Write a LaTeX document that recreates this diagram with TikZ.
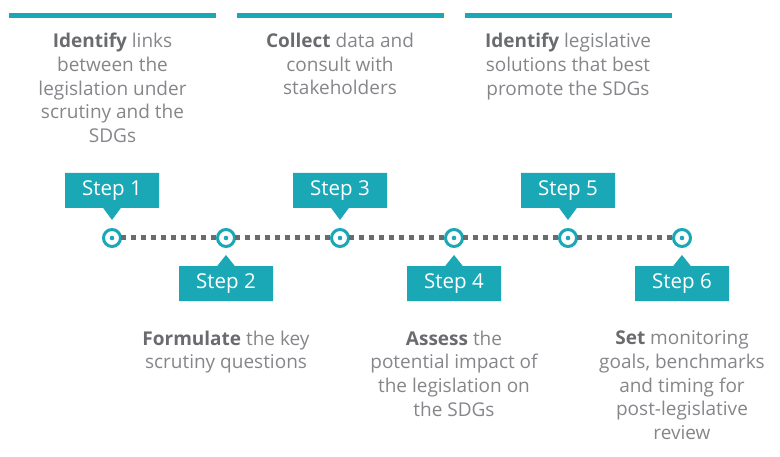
\documentclass[tikz,border=0pt]{standalone}
\usepackage{fontspec}
\setmainfont{Open Sans}
\usepackage{xcolor}
\usetikzlibrary{positioning,shapes.callouts}
\definecolor{tealmain}{HTML}{1BA8B6}
\definecolor{textgray}{HTML}{85868A}
\definecolor{boldgray}{HTML}{6A6B6F}
\definecolor{dotgray}{HTML}{6A6B6F}
\tikzstyle{step box}=[
    rectangle callout,
    fill = tealmain,
    text = white,
    minimum width = 94pt,
    minimum height = 35pt,
    inner sep = 0pt,
    callout pointer width = 18pt,
    font = \fontsize{20.5}{24}\selectfont
]
\tikzstyle{top bar}=[
    fill = tealmain,
    minimum width = 207pt,
    minimum height = 5pt,
    inner sep = 0pt
]
\newcommand{\key}[1]{\textcolor{boldgray}{\textbf{#1}}}

\begin{document}
\begin{tikzpicture}[x=1pt, y=1pt, node distance={30pt},
    main/.style = {draw=tealmain, circle, line width=3pt, fill=white, minimum size=17pt, inner sep=0pt, outer sep=0pt,
        path picture={\fill[tealmain] (path picture bounding box.center) circle (2.3pt);}},
    desc/.style = {align=center, text=textgray, inner sep=0pt, font=\fontsize{19}{23.8}\selectfont},
    dots/.style = {dotgray, line width=5pt, dash pattern=on 5pt off 5pt}]
        \useasboundingbox (0,0) rectangle (780,457);

        \node[main] (1) at (112,219) {};
        \node[main] (2) at (226,219) {};
        \node[main] (3) at (340,219) {};
        \node[main] (4) at (454,219) {};
        \node[main] (5) at (568,219) {};
        \node[main] (6) at (682,219) {};

        \draw[dots] (1) -- (2);
        \draw[dots] (2) -- (3);
        \draw[dots] (3) -- (4);
        \draw[dots] (4) -- (5);
        \draw[dots] (5) -- (6);

        \coordinate (p1) at (112,237);
        \coordinate (p2) at (226,202);
        \coordinate (p3) at (340,237);
        \coordinate (p4) at (454,202);
        \coordinate (p5) at (568,237);
        \coordinate (p6) at (682,202);

        \node[step box, callout absolute pointer={(p1)}] (s1) [above=30pt of 1.center] {Step 1};
        \node[step box, callout absolute pointer={(p2)}] (s2) [below=28pt of 2.center] {Step 2};
        \node[step box, callout absolute pointer={(p3)}] (s3) [above=30pt of 3.center] {Step 3};
        \node[step box, callout absolute pointer={(p4)}] (s4) [below=28pt of 4.center] {Step 4};
        \node[step box, callout absolute pointer={(p5)}] (s5) [above=30pt of 5.center] {Step 5};
        \node[step box, callout absolute pointer={(p6)}] (s6) [below=28pt of 6.center] {Step 6};

        \node[top bar] (b1) at (112.5,441) {};
        \node[top bar] (b2) at (340,441) {};
        \node[top bar] (b3) at (568,441) {};

        \node[desc] (t1) [below=14pt of b1] {\key{Identify} links\\between the\\legislation under\\scrutiny and the\\SDGs};
        \node[desc] (t3) [below=14pt of b2] {\key{Collect} data and\\consult with\\stakeholders};
        \node[desc] (t5) [below=14pt of b3] {\key{Identify} legislative\\solutions that best\\promote the SDGs};

        \node[desc] (t2) [below=29pt of s2] {\key{Formulate} the key\\scrutiny questions};
        \node[desc] (t4) [below=29pt of s4] {\key{Assess} the\\potential impact of\\the legislation on\\the SDGs};
        \node[desc] (t6) [below=29pt of s6] {\key{Set} monitoring\\goals, benchmarks\\and timing for\\post-legislative\\review};

    \end{tikzpicture}
\end{document}
